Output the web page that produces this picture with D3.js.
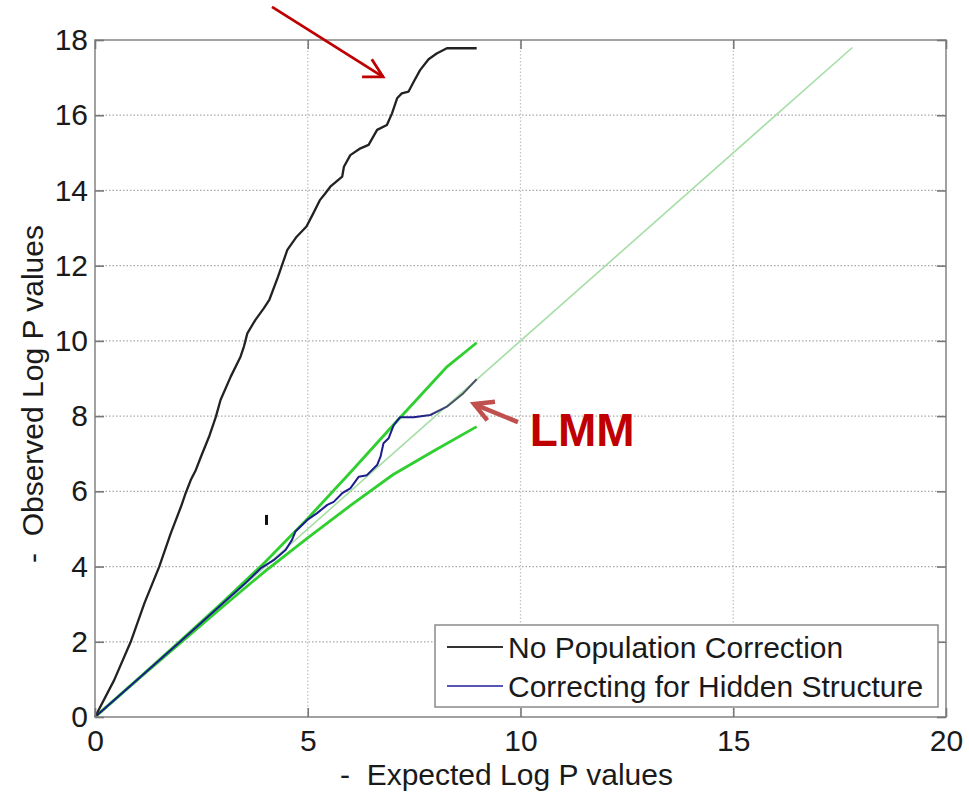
<!DOCTYPE html>
<html>
<head>
<meta charset="utf-8">
<script src="https://cdn.jsdelivr.net/npm/d3@7/dist/d3.min.js"></script>
<style>
  html, body { margin: 0; padding: 0; background: #fff; }
  svg { display: block; font-family: "Liberation Sans", Arial, sans-serif; }
</style>
</head>
<body>
<svg id="chart" width="969" height="793"></svg>
<script>
// QQ plot of -log10 p values: observed vs expected

// No population correction
const expectedRaw = [0, 0.45, 0.84, 1.16, 1.51, 1.78, 2.02, 2.13, 2.25, 2.37, 2.49, 2.68, 2.84, 2.95, 3.19, 3.42, 3.50, 3.58, 3.77, 3.97, 4.10, 4.30, 4.52, 4.74, 4.97, 5.13, 5.29, 5.41, 5.53, 5.81, 5.85, 6.00, 6.24, 6.43, 6.63, 6.86, 6.98, 7.10, 7.21, 7.37, 7.49, 7.64, 7.84, 8.03, 8.27, 8.97];
const observedRaw = [0, 0.98, 2.00, 3.02, 4.00, 4.88, 5.59, 5.95, 6.30, 6.57, 6.92, 7.45, 7.98, 8.43, 9.05, 9.58, 9.85, 10.20, 10.56, 10.87, 11.10, 11.70, 12.42, 12.77, 13.04, 13.39, 13.75, 13.92, 14.10, 14.37, 14.63, 14.94, 15.12, 15.21, 15.61, 15.74, 16.05, 16.45, 16.58, 16.63, 16.89, 17.20, 17.49, 17.64, 17.78, 17.78];

// Correcting for hidden structure (LMM)
const expectedLmm = [0, 1, 2, 3, 3.5, 3.89, 4.20, 4.48, 4.63, 4.71, 4.99, 5.22, 5.46, 5.61, 5.81, 6.00, 6.20, 6.39, 6.63, 6.71, 6.78, 6.90, 7.02, 7.17, 7.49, 7.88, 8.27, 8.66, 8.97];
const observedLmm = [0, 1.00, 2.00, 3.02, 3.52, 3.95, 4.17, 4.44, 4.71, 4.93, 5.24, 5.42, 5.64, 5.72, 5.95, 6.08, 6.39, 6.43, 6.70, 6.92, 7.28, 7.41, 7.76, 7.97, 7.97, 8.03, 8.25, 8.61, 8.98];

// Null expectation y = x and its confidence band
const nullExpected = [0, 17.8];
const nullObserved = [0, 17.8];
const bandExpected = [0, 1, 2, 3, 4, 5, 6, 7, 8, 8.27, 8.97];
const bandUpper    = [0, 1.00, 2.02, 3.05, 4.12, 5.28, 6.50, 7.75, 8.98, 9.31, 9.95];
const bandLowerX   = [0, 1, 2, 3, 4, 5, 6, 7, 8, 8.97];
const bandLower    = [0, 0.99, 1.96, 2.93, 3.88, 4.76, 5.62, 6.44, 7.10, 7.72];

// Axes
const xTicks = [0, 5, 10, 15, 20];
const yTicks = [0, 2, 4, 6, 8, 10, 12, 14, 16, 18];
const xLabel = "-  Expected Log P values";
const yLabel = "-  Observed Log P values";
const legendLabels = ["No Population Correction", "Correcting for Hidden Structure"];

// Annotations (in data units)
const topArrow = { from: [4.16, 18.88], to: [6.77, 17.02] };
const lmmArrow = { from: [9.94, 7.84], to: [8.91, 8.32] };
const lmmText = { at: [10.22, 7.2], text: "LMM" };
const strayMark = [4.03, 5.24];

const svg = d3.select("#chart");
const W = 969, H = 793;
svg.append("rect").attr("width", W).attr("height", H).attr("fill", "#fff");

const m = { left: 95, top: 40, right: 23, bottom: 76 };
const iw = W - m.left - m.right;   // 851
const ih = H - m.top - m.bottom;   // 677

const x = d3.scaleLinear().domain([0, 20]).range([0, iw]);
const y = d3.scaleLinear().domain([0, 18]).range([ih, 0]);

const g = svg.append("g").attr("transform", `translate(${m.left},${m.top})`);

// Dotted grid
g.append("g").selectAll("line").data(yTicks.filter(d => d > 0 && d < 18)).join("line")
  .attr("x1", 0).attr("x2", iw).attr("y1", d => y(d)).attr("y2", d => y(d))
  .attr("stroke", "#a9a9a9").attr("stroke-width", 1.3).attr("stroke-dasharray", "1.5,2");
g.append("g").selectAll("line").data(xTicks.filter(d => d > 0 && d < 20)).join("line")
  .attr("y1", 0).attr("y2", ih).attr("x1", d => x(d)).attr("x2", d => x(d))
  .attr("stroke", "#c4c4c4").attr("stroke-width", 1.3).attr("stroke-dasharray", "1.5,2");

const line = d3.line().x(d => x(d[0])).y(d => y(d[1]));
const zip = (a, b) => a.map((v, i) => [v, b[i]]);

// Null line
g.append("path").datum(zip(nullExpected, nullObserved))
  .attr("d", line).attr("fill", "none")
  .attr("stroke", "#a6dea6").attr("stroke-width", 1.6);

// Confidence band
g.append("path").datum(zip(bandExpected, bandUpper))
  .attr("d", line).attr("fill", "none")
  .attr("stroke", "#2fcf2f").attr("stroke-width", 2.8);
g.append("path").datum(zip(bandLowerX, bandLower))
  .attr("d", line).attr("fill", "none")
  .attr("stroke", "#2fcf2f").attr("stroke-width", 2.8);

// LMM curve, navy fading to slate at its tail
const defs = svg.append("defs");
const grad = defs.append("linearGradient").attr("id", "lmmStroke")
  .attr("gradientUnits", "userSpaceOnUse")
  .attr("x1", x(7.6)).attr("x2", x(8.4)).attr("y1", 0).attr("y2", 0);
grad.append("stop").attr("offset", 0).attr("stop-color", "#1c1c8c");
grad.append("stop").attr("offset", 1).attr("stop-color", "#4a5366");

g.append("path").datum(zip(expectedLmm, observedLmm))
  .attr("d", line).attr("fill", "none").attr("stroke-linejoin", "round")
  .attr("stroke", "url(#lmmStroke)").attr("stroke-width", 2);

// Uncorrected curve
g.append("path").datum(zip(expectedRaw, observedRaw))
  .attr("d", line).attr("fill", "none").attr("stroke-linejoin", "round")
  .attr("stroke", "#222").attr("stroke-width", 2.3);

// Frame
g.append("rect").attr("x", 0).attr("y", 0).attr("width", iw).attr("height", ih)
  .attr("fill", "none").attr("stroke", "#8a8a8a").attr("stroke-width", 1.6);

// Axes with inward ticks
const fontSize = 30;
const styleAxis = sel => {
  sel.select(".domain").remove();
  sel.selectAll(".tick line").attr("stroke", "#777").attr("stroke-width", 1.6);
  sel.selectAll(".tick text").attr("fill", "#1a1a1a").attr("font-size", fontSize)
    .attr("font-family", "'Liberation Sans', Arial, sans-serif");
};
g.append("g").call(d3.axisLeft(y).tickValues(yTicks).tickSizeInner(-9).tickSizeOuter(0).tickPadding(7).tickFormat(d3.format("d"))).call(styleAxis);
g.append("g").attr("transform", `translate(${iw},0)`)
  .call(d3.axisRight(y).tickValues(yTicks).tickSizeInner(-9).tickSizeOuter(0).tickFormat(() => "")).call(styleAxis);
g.append("g").attr("transform", `translate(0,${ih})`)
  .call(d3.axisBottom(x).tickValues(xTicks).tickSizeInner(-9).tickSizeOuter(0).tickPadding(13).tickFormat(d3.format("d"))).call(styleAxis);
g.append("g")
  .call(d3.axisTop(x).tickValues(xTicks).tickSizeInner(-9).tickSizeOuter(0).tickFormat(() => "")).call(styleAxis);

// Axis titles
svg.append("text").attr("x", 340).attr("y", 785)
  .attr("font-size", fontSize).attr("fill", "#1a1a1a").style("white-space", "pre")
  .text(xLabel);
svg.append("text").attr("transform", "translate(43,563) rotate(-90)")
  .attr("font-size", fontSize).attr("fill", "#1a1a1a").style("white-space", "pre")
  .text(yLabel);

// Legend
const lg = svg.append("g").attr("transform", "translate(435,625)");
lg.append("rect").attr("width", 503).attr("height", 82)
  .attr("fill", "#fff").attr("stroke", "#8a8a8a").attr("stroke-width", 1.5);
const legendColors = ["#333", "#5656b8"];
legendLabels.forEach((t, i) => {
  const yy = 22 + i * 39;
  lg.append("line").attr("x1", 12).attr("x2", 68).attr("y1", yy).attr("y2", yy)
    .attr("stroke", legendColors[i]).attr("stroke-width", 2);
  lg.append("text").attr("x", 73).attr("y", yy + 11)
    .attr("font-size", fontSize).attr("fill", "#1a1a1a").text(t);
});

// Annotation arrows
function arrow(a, color, width, len, spreadA, spreadB) {
  const [x0, y0] = [m.left + x(a.from[0]), m.top + y(a.from[1])];
  const [x1, y1] = [m.left + x(a.to[0]), m.top + y(a.to[1])];
  const ang = Math.atan2(y0 - y1, x0 - x1);
  const w1 = [x1 + len * Math.cos(ang - spreadA), y1 + len * Math.sin(ang - spreadA)];
  const w2 = [x1 + len * Math.cos(ang + spreadB), y1 + len * Math.sin(ang + spreadB)];
  svg.append("line").attr("x1", x0).attr("y1", y0).attr("x2", x1).attr("y2", y1)
    .attr("stroke", color).attr("stroke-width", width);
  svg.append("path").attr("d", `M${w1[0]},${w1[1]}L${x1},${y1}L${w2[0]},${w2[1]}`)
    .attr("fill", "none").attr("stroke", color).attr("stroke-width", width)
    .attr("stroke-linejoin", "miter");
}
arrow(topArrow, "#c00000", 2.8, 21, 0.56, 0.44);
arrow(lmmArrow, "#c0504d", 4.5, 21, 0.5, 0.5);

svg.append("text")
  .attr("x", m.left + x(lmmText.at[0])).attr("y", m.top + y(lmmText.at[1]))
  .attr("font-size", 46).attr("font-weight", "bold").attr("fill", "#c00000")
  .text(lmmText.text);

// Small stray tick inside the plot
g.append("line")
  .attr("x1", x(strayMark[0])).attr("x2", x(strayMark[0]))
  .attr("y1", y(strayMark[1]) - 5).attr("y2", y(strayMark[1]) + 5)
  .attr("stroke", "#111").attr("stroke-width", 3);
</script>
</body>
</html>
